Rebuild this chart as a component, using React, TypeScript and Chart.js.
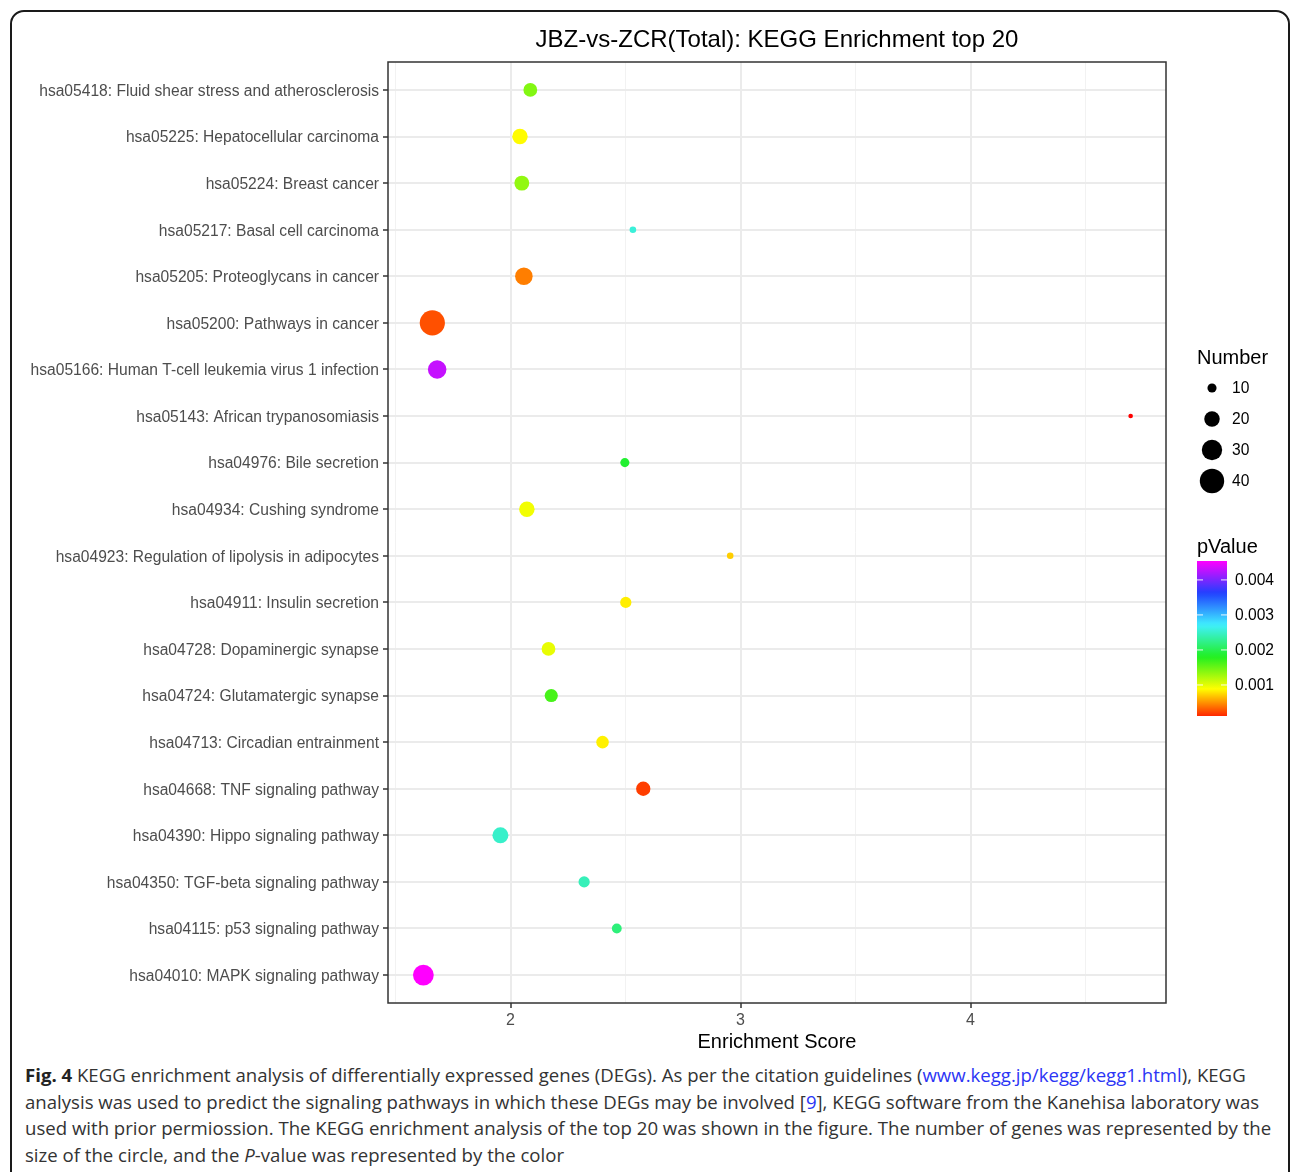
import React, { useEffect, useRef } from "react";
import { Chart, registerables } from "chart.js";

Chart.register(...registerables);

// ---------------- data ----------------
const categories = [
  "hsa05418: Fluid shear stress and atherosclerosis",
  "hsa05225: Hepatocellular carcinoma",
  "hsa05224: Breast cancer",
  "hsa05217: Basal cell carcinoma",
  "hsa05205: Proteoglycans in cancer",
  "hsa05200: Pathways in cancer",
  "hsa05166: Human T-cell leukemia virus 1 infection",
  "hsa05143: African trypanosomiasis",
  "hsa04976: Bile secretion",
  "hsa04934: Cushing syndrome",
  "hsa04923: Regulation of lipolysis in adipocytes",
  "hsa04911: Insulin secretion",
  "hsa04728: Dopaminergic synapse",
  "hsa04724: Glutamatergic synapse",
  "hsa04713: Circadian entrainment",
  "hsa04668: TNF signaling pathway",
  "hsa04390: Hippo signaling pathway",
  "hsa04350: TGF-beta signaling pathway",
  "hsa04115: p53 signaling pathway",
  "hsa04010: MAPK signaling pathway",
];

const enrichmentScore = [
  2.086, 2.041, 2.049, 2.532, 2.058, 1.66, 1.681, 4.696, 2.497, 2.071,
  2.955, 2.501, 2.165, 2.177, 2.4, 2.577, 1.956, 2.32, 2.462, 1.621,
];

const geneNumber = [
  17, 20, 19, 7, 24, 42, 26, 5, 10, 20, 7, 13, 17, 16, 15, 18, 21, 13, 11, 31,
];

const pValue = [
  0.00149, 0.00099, 0.00143, 0.00262, 0.00055, 0.00039, 0.00431, 0.000114,
  0.00195, 0.00105, 0.00083, 0.00094, 0.00109, 0.00173, 0.00095, 0.00033,
  0.00256, 0.00249, 0.00224, 0.00454,
];

const sizeBreaks = [10, 20, 30, 40];
const pValueBreaks = [0.001, 0.002, 0.003, 0.004];
const xMajorTicks = [2, 3, 4];
const xMinorTicks = [1.5, 2.5, 3.5, 4.5];

const TITLE = "JBZ-vs-ZCR(Total): KEGG Enrichment top 20";
const X_TITLE = "Enrichment Score";

// ---------------- styling helpers ----------------
const W = 1290;
const H = 1062;
const FONT = '"Liberation Sans", Arial, Helvetica, sans-serif';

const STOPS: [number, number[]][] = [
  [0, [255, 0, 0]],
  [0.2, [255, 255, 0]],
  [0.4, [32, 240, 32]],
  [0.6, [64, 240, 255]],
  [0.8, [32, 64, 255]],
  [1, [255, 0, 255]],
];

function colorAt(t: number): string {
  const tt = Math.max(0, Math.min(1, t));
  for (let i = 1; i < STOPS.length; i++) {
    const [t1, c1] = STOPS[i];
    const [t0, c0] = STOPS[i - 1];
    if (tt <= t1) {
      const f = (tt - t0) / (t1 - t0);
      const c = c0.map((v, k) => Math.round(v + (c1[k] - v) * f));
      return `rgb(${c[0]},${c[1]},${c[2]})`;
    }
  }
  const c = STOPS[STOPS.length - 1][1];
  return `rgb(${c[0]},${c[1]},${c[2]})`;
}

const pMin = Math.min(...pValue);
const pMax = Math.max(...pValue);
const pColor = (p: number) => colorAt((p - pMin) / (pMax - pMin));
const sizeRadius = (n: number) => Math.max(1.5, (-6.24 + 4.85 * Math.sqrt(n)) / 2);

const xLo = Math.min(...enrichmentScore);
const xHi = Math.max(...enrichmentScore);
const xPad = (xHi - xLo) * 0.05;

const isMajor = (v: number) => xMajorTicks.some((m) => Math.abs(m - v) < 1e-6);

const decorPlugin = {
  id: "decor",
  afterDatasetsDraw(chart: any) {
    const { ctx, chartArea: a } = chart;
    ctx.save();
    ctx.strokeStyle = "#333333";
    ctx.lineWidth = 1.5;
    ctx.strokeRect(a.left, a.top, a.right - a.left, a.bottom - a.top);
    ctx.restore();
  },
  afterDraw(chart: any) {
    const { ctx, chartArea: a } = chart;
    ctx.save();
    ctx.fillStyle = "#000";
    ctx.textBaseline = "alphabetic";
    ctx.textAlign = "center";
    ctx.font = `24px ${FONT}`;
    ctx.fillText(TITLE, (a.left + a.right) / 2, 47);
    ctx.font = `20px ${FONT}`;
    ctx.fillText(X_TITLE, (a.left + a.right) / 2, 1048);

    // Number legend
    ctx.textAlign = "left";
    ctx.font = `20px ${FONT}`;
    ctx.fillText("Number", 1197, 364);
    ctx.font = `15.6px ${FONT}`;
    sizeBreaks.forEach((b, i) => {
      const y = 388 + i * 31;
      ctx.beginPath();
      ctx.arc(1212, y, sizeRadius(b), 0, Math.PI * 2);
      ctx.fillStyle = "#000";
      ctx.fill();
      ctx.textBaseline = "middle";
      ctx.fillText(String(b), 1232, y + 1);
    });

    // pValue colourbar
    ctx.textBaseline = "alphabetic";
    ctx.font = `20px ${FONT}`;
    ctx.fillText("pValue", 1197, 553);
    const bx = 1197, by = 561, bw = 30, bh = 155;
    const grad = ctx.createLinearGradient(0, by + bh, 0, by);
    for (let i = 0; i <= 40; i++) {
      const t = i / 40;
      grad.addColorStop(t, colorAt(0.03 + t * 0.97));
    }
    ctx.fillStyle = grad;
    ctx.fillRect(bx, by, bw, bh);
    ctx.font = `15.6px ${FONT}`;
    ctx.textBaseline = "middle";
    pValueBreaks.forEach((b) => {
      const y = by + bh - ((b - pMin) / (pMax - pMin)) * bh;
      ctx.strokeStyle = "rgba(255,255,255,0.9)";
      ctx.lineWidth = 1;
      ctx.beginPath();
      ctx.moveTo(bx, y);
      ctx.lineTo(bx + 6, y);
      ctx.moveTo(bx + bw - 6, y);
      ctx.lineTo(bx + bw, y);
      ctx.stroke();
      ctx.fillStyle = "#000";
      ctx.fillText(b.toFixed(3), 1235, y + 1);
    });
    ctx.restore();
  },
};

function BubbleChart() {
  const ref = useRef<HTMLCanvasElement | null>(null);
  useEffect(() => {
    if (!ref.current) return;
    const data = categories.map((_, i) => ({
      x: enrichmentScore[i],
      y: i,
      r: sizeRadius(geneNumber[i]),
    }));
    const chart = new Chart(ref.current, {
      type: "bubble",
      data: {
        datasets: [
          {
            label: "KEGG",
            data,
            backgroundColor: pValue.map(pColor),
            borderWidth: 0,
            hoverBorderWidth: 0,
          },
        ],
      },
      options: {
        responsive: false,
        animation: false,
        devicePixelRatio: 1,
        events: [],
        layout: { padding: { left: 0, top: 62, right: W - 1166, bottom: 0 } },
        plugins: {
          legend: { display: false },
          tooltip: { enabled: false },
          title: { display: false },
        },
        scales: {
          x: {
            type: "linear",
            min: xLo - xPad,
            max: xHi + xPad,
            afterBuildTicks: (axis: any) => {
              axis.ticks = [...xMinorTicks, ...xMajorTicks]
                .sort((p, q) => p - q)
                .map((value) => ({ value }));
            },
            afterFit: (axis: any) => {
              axis.height = H - 1003;
            },
            border: { display: false },
            grid: {
              color: (c: any) => (isMajor(c.tick?.value) ? "#EBEBEB" : "#F2F2F2"),
              lineWidth: (c: any) => (isMajor(c.tick?.value) ? 2 : 1),
              tickColor: (c: any) => (isMajor(c.tick?.value) ? "#333333" : "rgba(0,0,0,0)"),
              tickLength: 5,
              tickWidth: 1.5,
            },
            ticks: {
              autoSkip: false,
              maxRotation: 0,
              padding: 3,
              color: "#4D4D4D",
              font: { family: FONT, size: 16 },
              callback: (v: any) => (isMajor(Number(v)) ? String(v) : ""),
            },
          },
          y: {
            type: "linear",
            min: -0.6,
            max: categories.length - 1 + 0.6,
            reverse: true,
            afterBuildTicks: (axis: any) => {
              axis.ticks = categories.map((_, i) => ({ value: i }));
            },
            afterFit: (axis: any) => {
              axis.width = 388;
            },
            border: { display: false },
            grid: {
              color: "#EBEBEB",
              lineWidth: 2,
              tickColor: "#333333",
              tickLength: 5,
              tickWidth: 1.5,
            },
            ticks: {
              autoSkip: false,
              padding: 4,
              labelOffset: 1.5,
              color: "#4D4D4D",
              font: { family: FONT, size: 15.6 },
              callback: (v: any) => categories[Number(v)] ?? "",
            },
          },
        },
      },
      plugins: [decorPlugin],
    } as any);
    return () => chart.destroy();
  }, []);
  return (
    <canvas
      ref={ref}
      width={W}
      height={H}
      style={{ position: "absolute", left: 0, top: 0, width: W, height: H }}
    />
  );
}

const linkStyle = { color: "#2B35F5" };

export default function App() {
  const lineStyle: React.CSSProperties = { whiteSpace: "nowrap", height: 26.6 };
  return (
    <div
      style={{
        position: "absolute",
        left: 0,
        top: 0,
        width: 1290,
        height: 1172,
        overflow: "hidden",
        background: "#fff",
      }}
    >
      <div
        style={{
          position: "absolute",
          left: 10,
          top: 10,
          width: 1280,
          height: 1260,
          boxSizing: "border-box",
          border: "2px solid #1a1a1a",
          borderRadius: 14,
        }}
      />
      <BubbleChart />
      <div
        style={{
          position: "absolute",
          left: 25,
          top: 1062,
          fontFamily: '"Open Sans", "Noto Sans", sans-serif',
          fontSize: 18.6,
          lineHeight: "26.6px",
          color: "#333",
        }}
      >
        <div style={lineStyle}>
          <b style={{ color: "#222" }}>Fig. 4</b> KEGG enrichment analysis of differentially expressed genes (DEGs). As per the citation guidelines (
          <span style={linkStyle}>www.kegg.jp/kegg/kegg1.html</span>), KEGG
        </div>
        <div style={lineStyle}>
          analysis was used to predict the signaling pathways in which these DEGs may be involved [<span style={linkStyle}>9</span>], KEGG software from the Kanehisa laboratory was
        </div>
        <div style={lineStyle}>
          used with prior permiossion. The KEGG enrichment analysis of the top 20 was shown in the figure. The number of genes was represented by the
        </div>
        <div style={lineStyle}>
          size of the circle, and the <i>P</i>-value was represented by the color
        </div>
      </div>
    </div>
  );
}
